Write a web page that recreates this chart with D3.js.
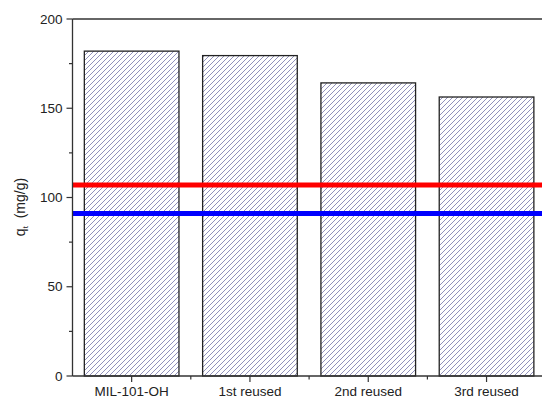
<!DOCTYPE html>
<html>
<head>
<meta charset="utf-8">
<script src="https://cdn.jsdelivr.net/npm/d3@7"></script>
<style>
  html, body { margin: 0; padding: 0; background: #fff; }
  svg { display: block; font-family: "Liberation Sans", Arial, sans-serif; }
</style>
</head>
<body>
<svg id="chart" width="542" height="401"></svg>
<script>
// Adsorption capacity over reuse cycles
const categories = ["MIL-101-OH", "1st reused", "2nd reused", "3rd reused"];
const capacity = [182, 179.5, 164.2, 156.3];
const refLines = [
  { value: 107, color: "#ff0000" },
  { value: 91, color: "#0000ff" }
];
const yTicks = [0, 50, 100, 150, 200];
const yMinorTicks = [25, 75, 125, 175];

const svg = d3.select("#chart");
const x0 = 72.5, plotTop = 19, plotBottom = 376;
const step = 118.3;

const x = d3.scaleBand()
  .domain(categories)
  .range([x0, x0 + step * categories.length])
  .paddingInner(0.2)
  .paddingOuter(0.1);

const y = d3.scaleLinear().domain([0, 200]).range([plotBottom, plotTop]);

// "/" hatch pattern for the bars
const defs = svg.append("defs");
const pat = defs.append("pattern")
  .attr("id", "hatch")
  .attr("patternUnits", "userSpaceOnUse")
  .attr("width", 5).attr("height", 5);
pat.append("rect").attr("width", 5).attr("height", 5).attr("fill", "#fff");
pat.append("path")
  .attr("d", "M-1,6 L6,-1 M-1,1 L1,-1 M4,6 L6,4")
  .attr("stroke", "#8484b4").attr("stroke-width", 0.9);

// bars
svg.append("g").selectAll("rect")
  .data(categories)
  .join("rect")
  .attr("x", d => x(d))
  .attr("y", (d, i) => y(capacity[i]))
  .attr("width", x.bandwidth())
  .attr("height", (d, i) => y(0) - y(capacity[i]))
  .attr("fill", "url(#hatch)")
  .attr("stroke", "#222")
  .attr("stroke-width", 1.3);

// horizontal reference levels
svg.append("g").selectAll("line")
  .data(refLines)
  .join("line")
  .attr("x1", x0).attr("x2", 542)
  .attr("y1", d => y(d.value)).attr("y2", d => y(d.value))
  .attr("stroke", d => d.color)
  .attr("stroke-width", 5);

// frame top line
svg.append("line")
  .attr("x1", x0).attr("x2", 542)
  .attr("y1", plotTop).attr("y2", plotTop)
  .attr("stroke", "#333").attr("stroke-width", 1.3);

// y axis
const yAxis = svg.append("g").attr("transform", `translate(${x0},0)`);
yAxis.append("line")
  .attr("x1", 0).attr("x2", 0).attr("y1", plotTop).attr("y2", plotBottom)
  .attr("stroke", "#333").attr("stroke-width", 1.3);
yAxis.selectAll(".major").data(yTicks).join("line")
  .attr("x1", -6).attr("x2", 0)
  .attr("y1", d => y(d)).attr("y2", d => y(d))
  .attr("stroke", "#333").attr("stroke-width", 1.2);
yAxis.selectAll(".minor").data(yMinorTicks).join("line")
  .attr("x1", -3.5).attr("x2", 0)
  .attr("y1", d => y(d)).attr("y2", d => y(d))
  .attr("stroke", "#333").attr("stroke-width", 1.2);
yAxis.selectAll("text").data(yTicks).join("text")
  .attr("x", -10).attr("y", d => y(d))
  .attr("dy", "0.35em")
  .attr("text-anchor", "end")
  .attr("font-size", 13.5)
  .attr("fill", "#222")
  .text(d => d);

// x axis
const xAxis = svg.append("g");
xAxis.append("line")
  .attr("x1", x0).attr("x2", 542).attr("y1", plotBottom).attr("y2", plotBottom)
  .attr("stroke", "#333").attr("stroke-width", 1.3);
xAxis.selectAll(".major").data(categories).join("line")
  .attr("x1", d => x(d) + x.bandwidth() / 2).attr("x2", d => x(d) + x.bandwidth() / 2)
  .attr("y1", plotBottom).attr("y2", plotBottom + 6)
  .attr("stroke", "#333").attr("stroke-width", 1.2);
xAxis.selectAll(".minor").data(categories.slice(1)).join("line")
  .attr("x1", d => x(d) - x.step() * x.paddingInner() / 2)
  .attr("x2", d => x(d) - x.step() * x.paddingInner() / 2)
  .attr("y1", plotBottom).attr("y2", plotBottom + 3.5)
  .attr("stroke", "#333").attr("stroke-width", 1.2);
xAxis.selectAll("text").data(categories).join("text")
  .attr("x", d => x(d) + x.bandwidth() / 2)
  .attr("y", 396)
  .attr("text-anchor", "middle")
  .attr("font-size", 13.5)
  .attr("fill", "#222")
  .text(d => d);

// y axis title
const title = svg.append("text")
  .attr("transform", `translate(25,207) rotate(-90)`)
  .attr("text-anchor", "middle")
  .attr("font-size", 14)
  .attr("fill", "#222");
title.append("tspan").text("q");
title.append("tspan").attr("font-size", 8).attr("dy", 3).text("t");
title.append("tspan").attr("dy", -3).text("\u00a0 (mg/g)");
</script>
</body>
</html>
